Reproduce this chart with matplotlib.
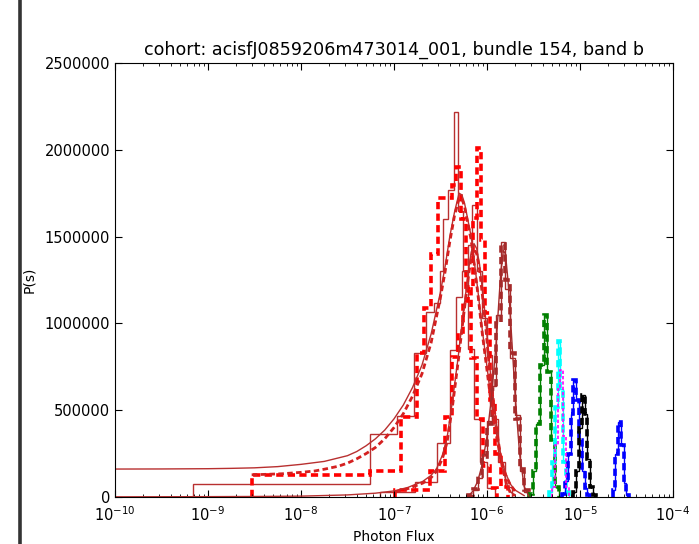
import numpy as np
import matplotlib
matplotlib.use('Agg')
import matplotlib.pyplot as plt
from matplotlib.lines import Line2D
from matplotlib.ticker import FuncFormatter

# Bundle histograms: bin edges (photon flux) and heights P(s)
# wide red block, thin outline
a_thin_edges = [6.85e-10, 5.52e-8, 1.076e-7, 1.64e-7, 2.21e-7, 2.69e-7, 3.13e-7, 3.37e-7,
                3.81e-7, 4.42e-7, 4.88e-7, 5.52e-7, 6.25e-7, 7.24e-7, 8.41e-7, 1.0e-6, 1.22e-6]
a_thin_vals = [75000, 365000, 467000, 830000, 1066000, 1120000, 1300000, 1600000,
               1770000, 2220000, 1650000, 1300000, 850000, 450000, 200000, 50000]
# wide red block, dashed outline
a_dash_edges = [2.97e-9, 5.52e-8, 1.19e-7, 1.77e-7, 2.10e-7, 2.50e-7, 2.97e-7, 4.21e-7,
                4.65e-7, 5.25e-7, 5.94e-7, 6.73e-7, 7.80e-7, 9.05e-7, 1.08e-6, 1.28e-6]
a_dash_vals = [127000, 150000, 460000, 830000, 1090000, 1400000, 1720000, 1800000,
               1900000, 1600000, 1200000, 800000, 450000, 180000, 50000]
# model curves for the wide block
a_fit_x = [1e-10, 3.16e-10, 1e-9, 1.78e-9, 3.16e-9, 5.62e-9, 1e-8, 1.78e-8, 3.16e-8,
           3.98e-8, 5.01e-8, 6.31e-8, 7.94e-8, 1e-7, 1.26e-7, 1.58e-7, 2.0e-7, 2.51e-7,
           3.16e-7, 3.55e-7, 3.98e-7, 4.47e-7, 5.01e-7, 5.37e-7, 5.75e-7, 6.76e-7, 7.94e-7,
           8.91e-7, 1e-6, 1.12e-6, 1.26e-6, 1.41e-6, 1.58e-6, 1.78e-6, 2.0e-6, 2.51e-6]
a_fit_y = [161000, 161500, 163000, 165000, 168000, 175000, 188000, 205000, 238000,
           262000, 295000, 335000, 385000, 450000, 530000, 630000, 760000, 940000,
           1180000, 1330000, 1500000, 1640000, 1750000, 1740000, 1690000, 1500000, 1200000,
           960000, 750000, 540000, 370000, 230000, 140000, 75000, 40000, 8000]
a_fit2_x = [2.95e-9, 4.47e-9, 6.31e-9, 1e-8, 1.41e-8, 1.78e-8, 2.51e-8, 3.16e-8, 3.98e-8,
            5.01e-8, 6.31e-8, 7.94e-8, 1e-7, 1.26e-7, 1.58e-7, 2.0e-7, 2.51e-7, 3.16e-7,
            3.55e-7, 3.98e-7, 4.47e-7, 5.01e-7, 5.37e-7, 5.75e-7, 6.76e-7, 7.94e-7, 8.91e-7,
            1e-6, 1.12e-6, 1.26e-6, 1.41e-6, 1.58e-6, 1.78e-6, 2.0e-6]
a_fit2_y = [128000, 131000, 134000, 142000, 150000, 160000, 177000, 195000, 220000,
            250000, 285000, 335000, 400000, 480000, 580000, 710000, 890000, 1150000,
            1300000, 1470000, 1620000, 1720000, 1720000, 1670000, 1480000, 1180000, 940000,
            730000, 520000, 355000, 220000, 130000, 70000, 35000]

# narrower red block
b_thin_edges = [7.06e-8, 1.68e-7, 2.90e-7, 4.00e-7, 4.65e-7, 5.38e-7, 6.25e-7, 6.90e-7,
                7.80e-7, 8.83e-7, 1.0e-6, 1.13e-6, 1.31e-6, 1.56e-6, 1.86e-6]
b_thin_vals = [30000, 86000, 311000, 847000, 1150000, 1300000, 1450000, 1680000,
               1300000, 1030000, 820000, 450000, 200000, 60000]
b_dash_edges = [1.03e-7, 2.44e-7, 3.53e-7, 4.21e-7, 4.88e-7, 5.52e-7, 6.25e-7, 7.06e-7,
                7.80e-7, 8.61e-7, 9.50e-7, 1.08e-6, 1.22e-6, 1.42e-6, 1.68e-6]
b_dash_vals = [40000, 150000, 460000, 806000, 950000, 1130000, 1210000, 1610000,
               2010000, 1480000, 1060000, 560000, 250000, 60000]
b_fit_x = [1e-10, 1e-9, 3.16e-9, 1e-8, 3.16e-8, 6.31e-8, 1e-7, 1.41e-7, 2.04e-7, 2.51e-7,
           2.88e-7, 3.31e-7, 3.72e-7, 4.27e-7, 4.9e-7, 5.5e-7, 6.31e-7, 6.76e-7, 7.24e-7,
           7.76e-7, 8.32e-7, 9.55e-7, 1.07e-6, 1.2e-6, 1.32e-6, 1.45e-6, 1.62e-6, 1.78e-6,
           2.0e-6]
b_fit_y = [1000, 2000, 3000, 5000, 12000, 22000, 35000, 55000, 90000, 125000,
           165000, 240000, 340000, 560000, 806000, 1040000, 1300000, 1410000, 1460000,
           1430000, 1340000, 1050000, 750000, 520000, 340000, 190000, 80000, 30000,
           10000]
b_fit2_x = [1.03e-7, 1.41e-7, 2.04e-7, 2.51e-7, 2.88e-7, 3.31e-7, 3.72e-7, 4.27e-7, 4.9e-7,
            5.5e-7, 6.31e-7, 6.76e-7, 7.24e-7, 7.76e-7, 8.32e-7, 9.55e-7, 1.07e-6, 1.2e-6,
            1.32e-6, 1.45e-6, 1.62e-6, 1.78e-6, 2.0e-6]
b_fit2_y = [30000, 48000, 80000, 112000, 150000, 220000, 315000, 530000, 780000,
            1010000, 1270000, 1380000, 1430000, 1400000, 1310000, 1020000, 720000, 500000,
            325000, 180000, 75000, 25000, 8000]

# brown block
c_edges = [6.31e-7, 7.08e-7, 7.94e-7, 8.91e-7, 1.0e-6, 1.12e-6, 1.26e-6, 1.41e-6,
           1.58e-6, 1.78e-6, 2.0e-6, 2.24e-6, 2.51e-6, 2.82e-6]
c_dash_vals = [10000, 45000, 120000, 230000, 420000, 620000, 1000000, 1460000,
               1250000, 830000, 450000, 160000, 40000]
c_thin_vals = [8000, 40000, 110000, 250000, 440000, 640000, 1050000, 1470000,
               1200000, 800000, 470000, 150000, 30000]
c_fit_x = [6.31e-7, 7.08e-7, 7.94e-7, 8.91e-7, 1e-6, 1.12e-6, 1.26e-6, 1.35e-6, 1.41e-6,
           1.5e-6, 1.58e-6, 1.68e-6, 1.78e-6, 1.89e-6, 2.0e-6, 2.24e-6, 2.51e-6, 2.82e-6]
c_fit_y = [5000, 35000, 90000, 190000, 350000, 580000, 900000, 1150000, 1300000,
           1420000, 1400000, 1250000, 1050000, 820000, 600000, 250000, 60000, 5000]

# high-flux blocks
d_edges = [2.82e-6, 3.09e-6, 3.39e-6, 3.72e-6, 4.07e-6, 4.47e-6, 4.90e-6, 5.37e-6, 5.89e-6]
d_vals = [20000, 150000, 420000, 760000, 1050000, 720000, 330000, 60000]
e_edges = [4.68e-6, 5.01e-6, 5.37e-6, 5.75e-6, 6.17e-6, 6.61e-6, 7.08e-6, 7.59e-6]
e_vals = [30000, 200000, 520000, 900000, 620000, 200000, 30000]
f_edges = [5.01e-6, 5.37e-6, 5.75e-6, 6.17e-6, 6.61e-6, 7.08e-6, 7.59e-6]
f_vals = [60000, 300000, 620000, 730000, 350000, 60000]
g_edges = [6.46e-6, 6.92e-6, 7.41e-6, 7.94e-6, 8.51e-6, 9.12e-6, 9.77e-6, 1.05e-5,
           1.12e-5, 1.20e-5, 1.29e-5]
g_vals = [20000, 90000, 250000, 480000, 674000, 560000, 330000, 150000, 50000, 10000]
h_edges = [8.51e-6, 9.12e-6, 9.77e-6, 1.05e-5, 1.12e-5, 1.20e-5, 1.29e-5, 1.38e-5, 1.48e-5]
h_vals = [30000, 150000, 400000, 588000, 480000, 220000, 60000, 10000]
k_edges = [2.24e-5, 2.40e-5, 2.57e-5, 2.75e-5, 2.95e-5, 3.16e-5, 3.39e-5]
k_vals = [40000, 250000, 434000, 300000, 80000, 10000]

yticks = [0, 500000, 1000000, 1500000, 2000000, 2500000]

thin_red = '#b83030'
dash = (0, (2.0, 1.2))

fig = plt.figure(figsize=(6.99, 5.44), dpi=100)
ax = fig.add_axes([0.1645, 0.0864, 0.7983, 0.7978])

# wide red block
ax.stairs(a_thin_vals, a_thin_edges, color=thin_red, lw=1.0)
ax.plot(a_fit_x, a_fit_y, color=thin_red, lw=1.0)
ax.plot(a_fit2_x, a_fit2_y, color='#d42020', lw=2.0, ls=dash)
ax.stairs(a_dash_vals, a_dash_edges, color='red', lw=2.6, ls=dash)

# narrow red block
ax.stairs(b_thin_vals, b_thin_edges, color=thin_red, lw=1.0)
ax.plot(b_fit_x, b_fit_y, color=thin_red, lw=1.0)
ax.plot(b_fit2_x, b_fit2_y, color='#d42020', lw=2.0, ls=dash)
ax.stairs(b_dash_vals, b_dash_edges, color='red', lw=2.6, ls=dash)

# brown block
ax.stairs(c_thin_vals, c_edges, color='brown', lw=1.0)
ax.plot(c_fit_x, c_fit_y, color='brown', lw=1.0)
ax.stairs(c_dash_vals, c_edges, color='brown', lw=2.6, ls=dash)

# the rest: thin outline under a thick dashed one
for edges, vals, col in [(d_edges, d_vals, 'green'), (e_edges, e_vals, 'cyan'),
                         (g_edges, g_vals, 'blue'), (h_edges, h_vals, 'black'),
                         (k_edges, k_vals, 'blue')]:
    ax.stairs(vals, edges, color=col, lw=1.0)
    ax.stairs(vals, edges, color=col, lw=2.6, ls=dash)
ax.stairs(f_vals, f_edges, color='magenta', lw=1.2, ls=dash)

ax.set_xscale('log')
ax.set_xlim(1e-10, 1e-4)
ax.set_ylim(0, 2500000)
ax.set_yticks(yticks)
ax.yaxis.set_major_formatter(FuncFormatter(lambda v, p: '%d' % v))
ax.tick_params(which='both', direction='in', top=True, right=True, labelsize=10.5)
ax.tick_params(which='major', length=5)
ax.tick_params(which='minor', length=2.5)
ax.tick_params(axis='x', pad=6)

ax.set_title('cohort: acisfJ0859206m473014_001, bundle 154, band b', fontsize=12.6)
ax.set_xlabel('Photon Flux', fontsize=10)
ax.set_ylabel('P(s)', fontsize=10, labelpad=6)

# dark edge line on the left side of the page
fig.add_artist(Line2D([20 / 699, 20 / 699], [0, 1], transform=fig.transFigure,
                      color='#333333', lw=2.6))

plt.savefig('out.png', dpi=100)
